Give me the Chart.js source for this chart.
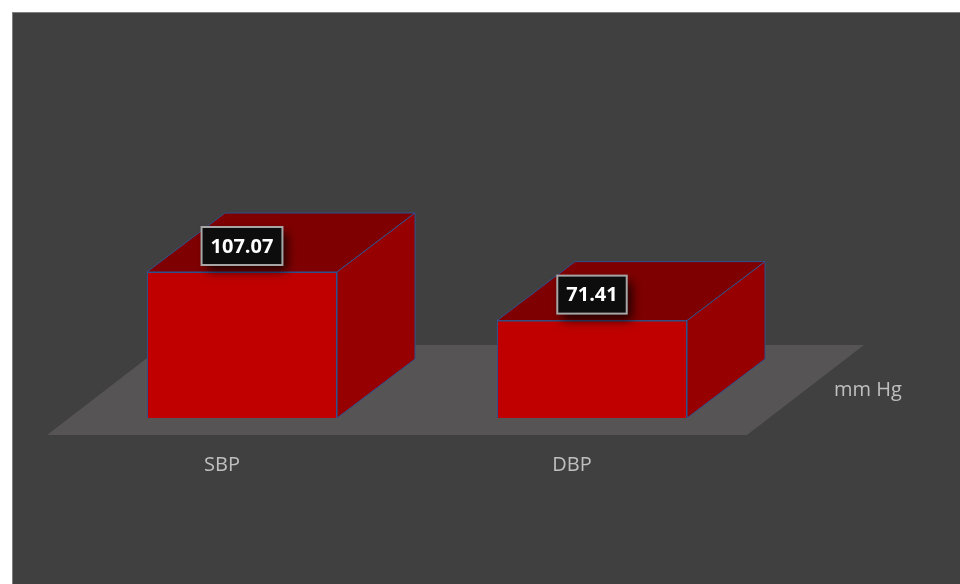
<!DOCTYPE html>
<html>
<head>
<meta charset="utf-8">
<script src="https://cdn.jsdelivr.net/npm/chart.js@4/dist/chart.umd.min.js"></script>
<style>
  html, body { margin: 0; padding: 0; background: #ffffff; }
  #wrap { width: 960px; height: 584px; position: relative; }
</style>
</head>
<body>
<div id="wrap"><canvas id="myChart" width="960" height="584"></canvas></div>
<script>
// ######### datos
// ###########################################

const categorias = ['SBP', 'DBP'];
const valores = [107.07, 71.41];
const etiquetaSerie = 'mm Hg';

// ######### colores / geometria 3d
// ###########################################

const colorFrente = '#c00000';
const colorArriba = '#7f0000';
const colorLado = '#960000';
const colorBorde = '#2f528f';
const fondoX = 78, fondoY = -59;      // profundidad de la barra
const pisoDx = 117, pisoDy = -90;     // profundidad del piso

const fondo3d = {
    id: 'fondo3d',
    beforeDraw(chart) {
        const c = chart.ctx;
        const a = chart.chartArea;
        c.save();
        c.fillStyle = '#ffffff';
        c.fillRect(0, 0, chart.width, chart.height);
        c.fillStyle = '#7f7f7f';
        c.fillRect(12, 12, chart.width - 12, chart.height - 12);
        c.fillStyle = '#404040';
        c.fillRect(13, 13, chart.width - 13, chart.height - 13);

        // piso
        const fx0 = a.left - 20, fx1 = a.right - 20, fy = a.bottom + 17;
        c.fillStyle = '#565454';
        c.beginPath();
        c.moveTo(fx0, fy);
        c.lineTo(fx1, fy);
        c.lineTo(fx1 + pisoDx, fy + pisoDy);
        c.lineTo(fx0 + pisoDx, fy + pisoDy);
        c.closePath();
        c.fill();

        // titulo de serie
        c.fillStyle = '#bfbfbf';
        c.font = '20px "Open Sans"';
        c.textAlign = 'center';
        c.textBaseline = 'middle';
        c.fillText(etiquetaSerie, fx1 + 121, fy - 45);
        c.restore();
    },
    afterDatasetsDraw(chart) {
        const c = chart.ctx;
        const meta = chart.getDatasetMeta(0);
        c.save();
        meta.data.forEach((bar, i) => {
            const p = bar.getProps(['x', 'y', 'base', 'width'], true);
            const l = p.x - p.width / 2, r = p.x + p.width / 2;
            const t = p.y, b = p.base;
            c.lineWidth = 1;
            c.strokeStyle = colorBorde;
            // cara superior
            c.fillStyle = colorArriba;
            c.beginPath();
            c.moveTo(l, t);
            c.lineTo(l + fondoX, t + fondoY);
            c.lineTo(r + fondoX, t + fondoY);
            c.lineTo(r, t);
            c.closePath();
            c.fill();
            c.stroke();
            // cara lateral
            c.fillStyle = colorLado;
            c.beginPath();
            c.moveTo(r, t);
            c.lineTo(r + fondoX, t + fondoY);
            c.lineTo(r + fondoX, b + fondoY);
            c.lineTo(r, b);
            c.closePath();
            c.fill();
            c.stroke();
        });

        // etiquetas de datos
        meta.data.forEach((bar, i) => {
            const p = bar.getProps(['x', 'y'], true);
            const txt = valores[i].toFixed(2);
            c.font = 'bold 20px "Open Sans"';
            const w = c.measureText(txt).width + 18, h = 38;
            const cx = p.x, cy = p.y - 26;
            c.save();
            c.shadowColor = 'rgba(0,0,0,0.75)';
            c.shadowBlur = 10;
            c.shadowOffsetX = 5;
            c.shadowOffsetY = 6;
            c.fillStyle = '#0d0d0d';
            c.fillRect(cx - w / 2, cy - h / 2, w, h);
            c.restore();
            c.strokeStyle = '#a6a6a6';
            c.lineWidth = 2;
            c.strokeRect(cx - w / 2, cy - h / 2, w, h);
            c.fillStyle = '#ffffff';
            c.textAlign = 'center';
            c.textBaseline = 'middle';
            c.fillText(txt, cx, cy + 1);
        });
        c.restore();
    }
};

// ######### grafico
// ###########################################

const myChart = document.getElementById('myChart');

if(myChart) {
    var ctx = myChart.getContext('2d');
    var chart = new Chart(ctx, {
        type: 'bar',
        data: {
            labels: categorias,
            datasets: [{
                label: etiquetaSerie,
                backgroundColor: colorFrente,
                borderColor: colorBorde,
                borderWidth: 1,
                data: valores,
                categoryPercentage: 1,
                barPercentage: 0.543
            }]
        },
        options: {
            responsive: false,
            animation: false,
            layout: { padding: { left: 67, right: 193, top: 118, bottom: 0 } },
            plugins: { legend: { display: false }, tooltip: { enabled: false } },
            scales: {
                x: {
                    grid: { display: false, drawTicks: false },
                    border: { display: false },
                    ticks: {
                        color: '#bfbfbf',
                        font: { family: '"Open Sans"', size: 20 },
                        padding: 35,
                        labelOffset: -20
                    },
                    afterFit: (scale) => { scale.height = 166; }
                },
                y: {
                    display: false,
                    min: 0,
                    max: 220
                }
            }
        },
        plugins: [fondo3d]
    });
}
</script>
</body>
</html>
